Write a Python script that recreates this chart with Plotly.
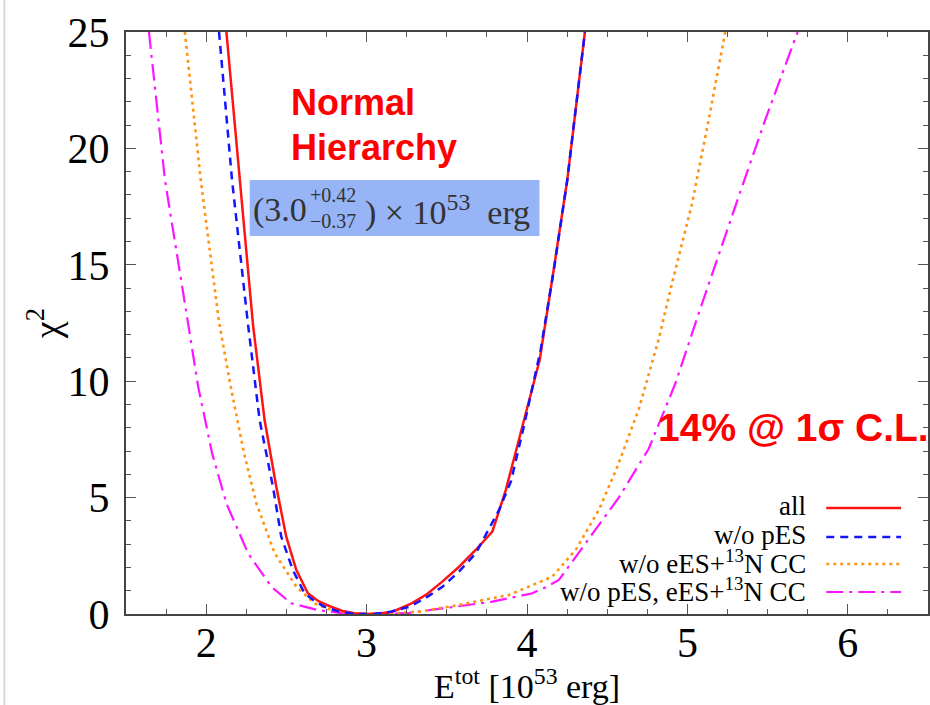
import plotly.graph_objects as go

# ---- data ----
all_x = [2.126, 2.209, 2.292, 2.364, 2.437, 2.499, 2.562, 2.634, 2.70, 2.779, 2.85, 2.924, 2.97, 3.017,
         3.09, 3.162, 3.27, 3.37, 3.47, 3.577, 3.68, 3.784, 3.868, 3.971, 4.079, 4.16, 4.251, 4.361]
all_y = [25.0, 18.64, 12.41, 8.33, 5.47, 3.32, 1.89, 0.89, 0.55, 0.31, 0.13, 0.03, 0.0, 0.0,
         0.03, 0.10, 0.42, 0.82, 1.38, 2.03, 2.75, 3.54, 5.33, 8.05, 10.91, 14.5, 18.64, 25.0]

wo_pes_x = [2.080, 2.161, 2.259, 2.333, 2.416, 2.468, 2.540, 2.613, 2.68, 2.738, 2.82, 2.904, 2.97, 3.05,
            3.15, 3.266, 3.37, 3.473, 3.58, 3.681, 3.826, 3.90, 3.98, 4.085, 4.17, 4.251, 4.361]
wo_pes_y = [25.0, 18.64, 12.54, 8.33, 5.47, 3.32, 1.89, 0.89, 0.53, 0.31, 0.12, 0.03, 0.0, 0.0,
            0.10, 0.31, 0.70, 1.17, 1.85, 2.61, 4.47, 5.70, 8.05, 11.34, 14.9, 18.64, 25.0]

wo_ees_x = [1.867, 1.966, 2.080, 2.153, 2.236, 2.313, 2.427, 2.562, 2.675, 2.76, 2.841, 2.92, 3.0, 3.10,
            3.328, 3.577, 3.888, 4.157, 4.303, 4.448, 4.562, 4.697, 4.821, 4.904, 5.028, 5.132, 5.236]
wo_ees_y = [25.0, 18.64, 12.54, 9.76, 6.90, 4.75, 2.61, 1.17, 0.46, 0.22, 0.10, 0.02, 0.0, 0.01,
            0.10, 0.39, 0.82, 1.60, 2.75, 4.47, 6.30, 8.80, 11.80, 14.20, 17.60, 21.20, 25.0]

wo_both_x = [1.643, 1.743, 1.887, 1.950, 2.037, 2.126, 2.261, 2.406, 2.530, 2.696, 2.85, 3.0, 3.15,
             3.266, 3.473, 3.784, 4.033, 4.116, 4.199, 4.303, 4.448, 4.572, 4.759, 4.925, 5.07, 5.163,
             5.318, 5.484, 5.687]
wo_both_y = [25.0, 18.64, 12.49, 9.76, 6.90, 4.75, 2.61, 1.17, 0.46, 0.17, 0.03, 0.0, 0.01,
             0.05, 0.24, 0.53, 0.89, 1.15, 1.46, 2.46, 3.85, 5.00, 7.10, 9.90, 12.90, 14.80,
             17.90, 21.20, 25.0]

series_names = ["all", "w/o pES", "w/o eES+<sup>13</sup>N CC", "w/o pES, eES+<sup>13</sup>N CC"]
series_colors = ["#ff1414", "#1414ff", "#ff9414", "#ff14ff"]
series_dash = ["solid", "8px,6px", "3px,4px", "17px,6px,3px,6px"]
series_width = [2.5, 2.5, 2.6, 2.2]

x_ticks = [2, 3, 4, 5, 6]
y_ticks = [0, 5, 10, 15, 20, 25]

SERIF = "Liberation Serif, Times New Roman, serif"
SANS = "Liberation Sans, Arial, sans-serif"

fig = go.Figure()
data = [(all_x, all_y), (wo_pes_x, wo_pes_y), (wo_ees_x, wo_ees_y), (wo_both_x, wo_both_y)]
order = [3, 2, 0, 1]
for i in order:
    xs, ys = data[i]
    fig.add_trace(go.Scatter(x=xs, y=ys, mode="lines", name=series_names[i],
                             line=dict(color=series_colors[i], width=series_width[i], dash=series_dash[i]),
                             showlegend=False))

axis_common = dict(showline=True, linecolor="#444", linewidth=2, mirror="ticks",
                   ticks="inside", ticklen=10, tickwidth=1.3, tickcolor="#555",
                   showgrid=False, zeroline=False,
                   tickfont=dict(family=SERIF, size=42, color="black"))

fig.update_xaxes(range=[1.5, 6.5], tickvals=x_ticks,
                 minor=dict(dtick=0.25, tick0=0, ticks="inside", ticklen=5, tickcolor="#555", tickwidth=1.2),
                 ticklabelstandoff=-9,
                 **axis_common)
fig.update_yaxes(range=[0, 25], tickvals=y_ticks,
                 minor=dict(dtick=1, tick0=0, ticks="inside", ticklen=5, tickcolor="#555", tickwidth=1.2),
                 ticklabelstandoff=6,
                 **axis_common)

W, H, L, T, B = 930, 705, 126, 32, 91
PW, PH = W - L, H - T - B


def xp(px):
    return (px - L) / PW


def yp(py):
    return (T + PH - py) / PH


shapes = []
annotations = []

# light frame line at far left of the screenshot
shapes.append(dict(type="line", xref="paper", yref="paper", x0=xp(4), x1=xp(4), y0=yp(H), y1=yp(0),
                   line=dict(color="#d8d8d8", width=2)))

# blue result box
shapes.append(dict(type="rect", xref="paper", yref="paper", x0=xp(250), x1=xp(540.5), y0=yp(236), y1=yp(180),
                   fillcolor="rgb(150,180,246)", line=dict(width=0), layer="above"))

fcol = "#333333"
annotations.append(dict(xref="paper", yref="paper", x=xp(309), y=yp(210), xanchor="right", yanchor="middle",
                        text="(3.0", showarrow=False, font=dict(family=SERIF, size=34, color=fcol)))
annotations.append(dict(xref="paper", yref="paper", x=xp(308), y=yp(208), xanchor="left", yanchor="middle",
                        text="+0.42<br>−0.37", align="left", showarrow=False,
                        font=dict(family=SERIF, size=20, color=fcol)))
annotations.append(dict(xref="paper", yref="paper", x=xp(364), y=yp(210), xanchor="left", yanchor="middle",
                        text=")&nbsp;× 10<sup>53</sup>&nbsp; erg", showarrow=False,
                        font=dict(family=SERIF, size=34, color=fcol)))

# red labels
annotations.append(dict(xref="paper", yref="paper", x=xp(289), y=yp(102), xanchor="left", yanchor="middle",
                        text="<b>Normal</b>", showarrow=False, font=dict(family=SANS, size=36, color="#ff0000")))
annotations.append(dict(xref="paper", yref="paper", x=xp(289), y=yp(147), xanchor="left", yanchor="middle",
                        text="<b>Hierarchy</b>", showarrow=False, font=dict(family=SANS, size=36, color="#ff0000")))
annotations.append(dict(xref="paper", yref="paper", x=xp(657), y=yp(427), xanchor="left", yanchor="middle",
                        text="<b>14% @ 1σ C.L.</b>", showarrow=False,
                        font=dict(family=SANS, size=39, color="#ff0000")))

# legend (text right, sample on right)
leg_y = [508, 537, 564, 592]
for i, yy in enumerate(leg_y):
    annotations.append(dict(xref="paper", yref="paper", x=xp(810), y=yp(yy - 2), xanchor="right",
                            yanchor="middle", text=series_names[i], showarrow=False,
                            font=dict(family=SERIF, size=27, color="black")))
    shapes.append(dict(type="line", xref="paper", yref="paper", x0=xp(828), x1=xp(903), y0=yp(yy), y1=yp(yy),
                       line=dict(color=series_colors[i], width=series_width[i], dash=series_dash[i])))

# axis titles
annotations.append(dict(xref="paper", yref="paper", x=0.5, y=yp(684), xanchor="center", yanchor="middle",
                        text="E<sup>tot</sup> [10<sup>53</sup> erg]", showarrow=False,
                        font=dict(family=SERIF, size=34, color="black")))
annotations.append(dict(xref="paper", yref="paper", x=xp(44), y=yp(324), xanchor="center", yanchor="middle",
                        text="χ<sup>2</sup>", textangle=-90, showarrow=False,
                        font=dict(family=SERIF, size=38, color="black")))

fig.update_layout(width=W, height=H, margin=dict(l=L, r=0, t=T, b=B, pad=0),
                  paper_bgcolor="white", plot_bgcolor="white",
                  shapes=shapes, annotations=annotations, showlegend=False)

fig.write_html("out.html")
